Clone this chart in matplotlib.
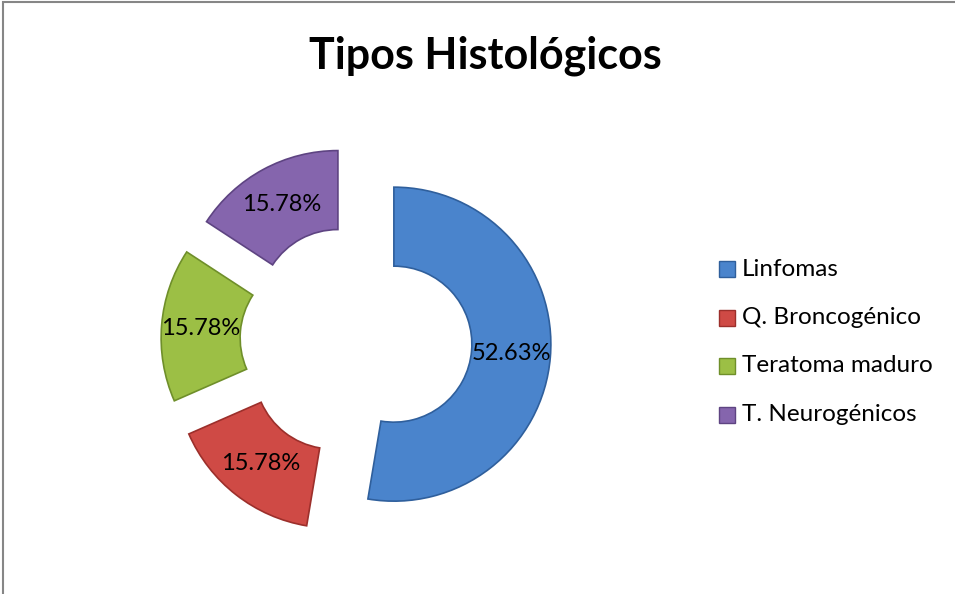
import matplotlib
matplotlib.use("Agg")
import matplotlib.pyplot as plt
from matplotlib.patches import Rectangle

plt.rcParams['font.family'] = ['Lato', 'DejaVu Sans']

# datos
categorias = ["Linfomas", "Q. Broncogénico", "Teratoma maduro", "T. Neurogénicos"]
porcentajes = [52.63, 15.78, 15.78, 15.78]
colores = ["#4A84CC", "#CF4A45", "#9CBF45", "#8565AD"]
bordes = ["#2F5F9C", "#9C2F2B", "#6F8F2A", "#5E4482"]

W, H = 955, 594
fig = plt.figure(figsize=(W / 100, H / 100), dpi=100)
ax = fig.add_axes([0, 0, 1, 1])

total = sum(porcentajes)
wedges, textos, pcts = ax.pie(
    porcentajes,
    radius=157,
    center=(356, H - 341),
    explode=[38] * len(porcentajes),
    startangle=90,
    counterclock=False,
    colors=colores,
    autopct=lambda p: "%.2f%%" % (p * total / 100),
    pctdistance=0.75,
    wedgeprops=dict(width=79, linewidth=1.2),
    textprops=dict(fontsize=17, color="black"),
)
for w, b in zip(wedges, bordes):
    w.set_edgecolor(b)

ax.set_xlim(0, W)
ax.set_ylim(0, H)
ax.set_aspect("equal")
ax.axis("off")

# titulo
fig.text(485 / W, 1 - 56 / H, "Tipos Histológicos", ha="center", va="center",
         fontsize=31, fontweight="bold")

# leyenda
for i, (cat, col, b) in enumerate(zip(categorias, colores, bordes)):
    y = H - (269 + i * 48.5)
    ax.add_patch(Rectangle((719, y - 8), 16, 16, facecolor=col, edgecolor=b, lw=1))
    ax.text(742, y, cat, ha="left", va="center", fontsize=17.5)

# borde del grafico
fig.add_artist(Rectangle((3 / W, -0.1), 1.2, (H - 2) / H + 0.1, transform=fig.transFigure,
                         fill=False, edgecolor="#868686", lw=1.5))

fig.savefig("out.png", dpi=100, facecolor="white")
